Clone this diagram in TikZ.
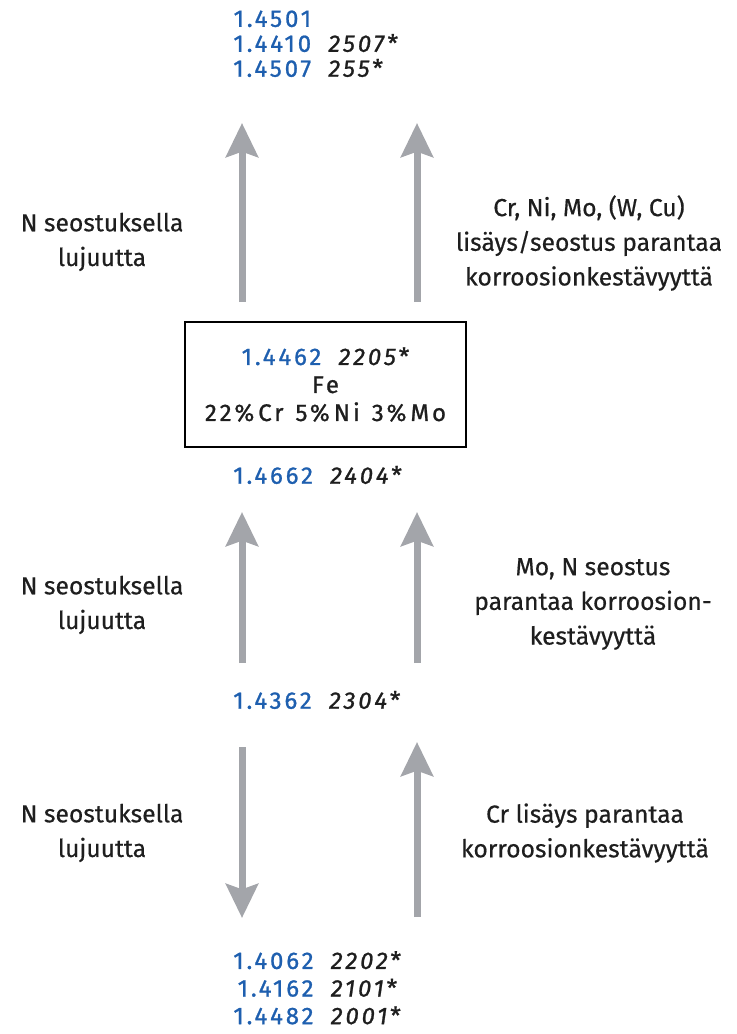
\documentclass[tikz,border=0pt]{standalone}
\usepackage{fontspec}
\setmainfont{Fira Sans}[FakeBold=0.5]
\newfontfamily\numfont{Fira Sans}[LetterSpace=12,FakeBold=1]
\usetikzlibrary{arrows.meta}

\definecolor{enblue}{RGB}{30,95,175}
\definecolor{txtgray}{RGB}{30,30,30}
\definecolor{arrowgray}{RGB}{163,165,170}

\newcommand{\en}[1]{\textcolor{enblue}{#1}}
\newcommand{\aisi}[1]{\textit{#1}*}

\tikzset{
  flow/.style={draw=arrowgray, line width=5.25pt, -{Stealth[length=25.5pt,width=24pt,inset=4pt]}},
  grade/.style={inner sep=0pt, text=txtgray, font=\numfont\fontsize{18}{18}\selectfont},
  effect/.style={inner sep=0pt, align=center, text=txtgray, font=\fontsize{18.5}{26}\selectfont},
}

\begin{document}
\begin{tikzpicture}[x=0.75pt,y=-0.75pt]
\useasboundingbox (0,0) rectangle (736,1034);

% grades
\node[grade, anchor=west] (top) at (233,47) {\begin{tabular}{@{}r@{\hspace{13pt}}l@{}}
\en{1.4501} & \\ \en{1.4410} & \aisi{2507} \\ \en{1.4507} & \aisi{255}
\end{tabular}};
\node[grade, draw=black, line width=1pt, minimum width=210.75pt, minimum height=93.75pt,
  align=center] (box) at (325.5,384.5)
  {\en{1.4462}\hspace{13pt}\aisi{2205}\\[3pt] Fe\\[3pt] 22\%\,Cr\enspace 5\%\,Ni\enspace 3\%\,Mo};
\node[grade, anchor=west] (mid) at (233,475) {\en{1.4662}\hspace{13pt}\aisi{2404}};
\node[grade, anchor=west] (low) at (233,700) {\en{1.4362}\hspace{13pt}\aisi{2304}};
\node[grade, anchor=west] (bot) at (233,991) {\renewcommand{\arraystretch}{1.15}%
\begin{tabular}{@{}r@{\hspace{13pt}}l@{}}
\en{1.4062} & \aisi{2202} \\ \en{1.4162} & \aisi{2101} \\ \en{1.4482} & \aisi{2001}
\end{tabular}};

% arrows
\coordinate (n1s) at (242,302);
\coordinate (n1e) at (242,123);
\coordinate (c1s) at (417,302);
\coordinate (c1e) at (417,123);
\coordinate (n2s) at (242,663);
\coordinate (n2e) at (242,512);
\coordinate (c2s) at (417,663);
\coordinate (c2e) at (417,512);
\coordinate (n3s) at (242,747);
\coordinate (n3e) at (242,918);
\coordinate (c3s) at (417,917);
\coordinate (c3e) at (417,742);

\draw[flow] (n1s) -- (n1e);
\draw[flow] (c1s) -- (c1e);
\draw[flow] (n2s) -- (n2e);
\draw[flow] (c2s) -- (c2e);
\draw[flow] (n3s) -- (n3e);
\draw[flow] (c3s) -- (c3e);

% texts
\node[effect] (n1) at (102,242) {N seostuksella\\lujuutta};
\node[effect] (c1) at (589,243) {Cr, Ni, Mo, (W, Cu)\\lisäys/seostus parantaa\\korroosionkestävyyttä};
\node[effect] (n2) at (102,605) {N seostuksella\\lujuutta};
\node[effect] (c2) at (593,604) {Mo, N seostus\\parantaa korroosion-\\kestävyyttä};
\node[effect] (n3) at (102,833) {N seostuksella\\lujuutta};
\node[effect] (c3) at (585,833) {Cr lisäys parantaa\\korroosionkestävyyttä};

\end{tikzpicture}
\end{document}
